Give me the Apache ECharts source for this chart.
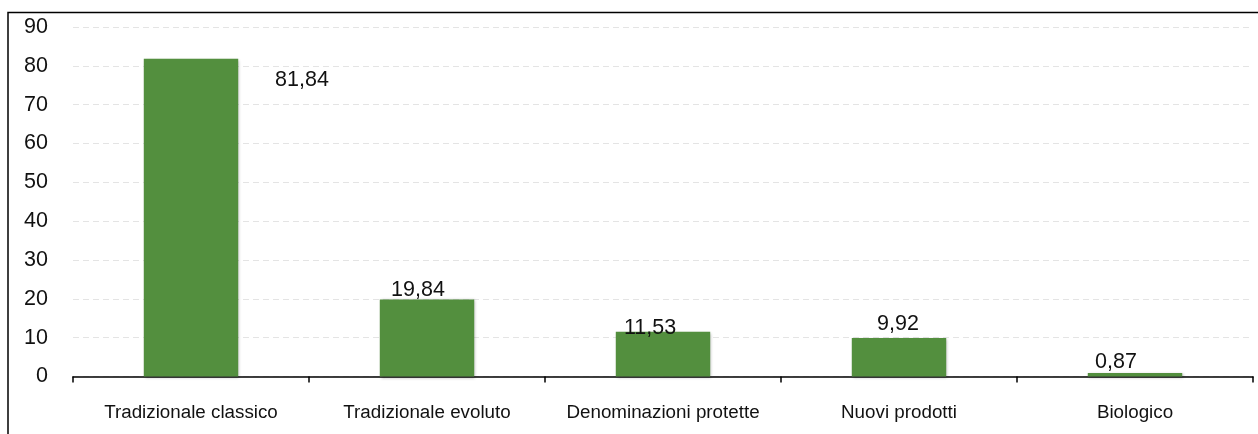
<!DOCTYPE html>
<html>
<head>
<meta charset="utf-8">
<script src="https://cdn.jsdelivr.net/npm/echarts@6/dist/echarts.min.js"></script>
<style>
html,body{margin:0;padding:0;background:#fff;}
#chart{width:1258px;height:434px;}
</style>
</head>
<body>
<div id="chart"></div>
<script>
const categories = ['Tradizionale classico', 'Tradizionale evoluto', 'Denominazioni protette', 'Nuovi prodotti', 'Biologico'];
const values = [81.84, 19.84, 11.53, 9.92, 0.87];
const yTicks = [0, 10, 20, 30, 40, 50, 60, 70, 80, 90];

// label placement (styling, not data)
const labelShift = [[111, 32], [-9, 2], [-13, 7], [-1, -3], [-19, 0]];

const chart = echarts.init(document.getElementById('chart'), null, {renderer: 'canvas'});
const font = 'Liberation Sans, Arial, sans-serif';

chart.setOption({
  animation: false,
  backgroundColor: '#fff',
  graphic: [{
    type: 'rect',
    shape: {x: 8, y: 12.5, width: 1270, height: 440},
    style: {fill: 'none', stroke: '#000', lineWidth: 1.5},
    z: 100
  }],
  grid: {left: 73, right: 5, top: 27, bottom: 57.5, containLabel: false},
  xAxis: {
    type: 'category',
    data: categories,
    axisLine: {show: true, lineStyle: {color: '#000', width: 1.5}},
    axisTick: {show: true, alignWithLabel: false, length: 6, lineStyle: {color: '#000', width: 1.5}},
    axisLabel: {color: '#111', fontFamily: font, fontSize: 18.8, margin: 27, interval: 0}
  },
  yAxis: {
    type: 'value',
    min: yTicks[0],
    max: yTicks[yTicks.length - 1],
    interval: 10,
    axisLine: {show: false},
    axisTick: {show: false},
    axisLabel: {color: '#111', fontFamily: font, fontSize: 21.5, margin: 25},
    splitLine: {show: true, lineStyle: {color: '#e4e4e4', type: [6, 4], width: 1}}
  },
  series: [{
    type: 'bar',
    barWidth: '40%',
    data: values.map((v, i) => ({
      value: v,
      label: {offset: labelShift[i]}
    })),
    itemStyle: {
      color: '#538f3e',
      shadowColor: 'rgba(0,0,0,0.3)',
      shadowBlur: 3,
      shadowOffsetX: 1,
      shadowOffsetY: 1
    },
    label: {
      show: true,
      position: 'top',
      distance: 0,
      color: '#111',
      fontFamily: font,
      fontSize: 21.5,
      formatter: p => String(p.value).replace('.', ',')
    }
  }]
});
</script>
</body>
</html>
